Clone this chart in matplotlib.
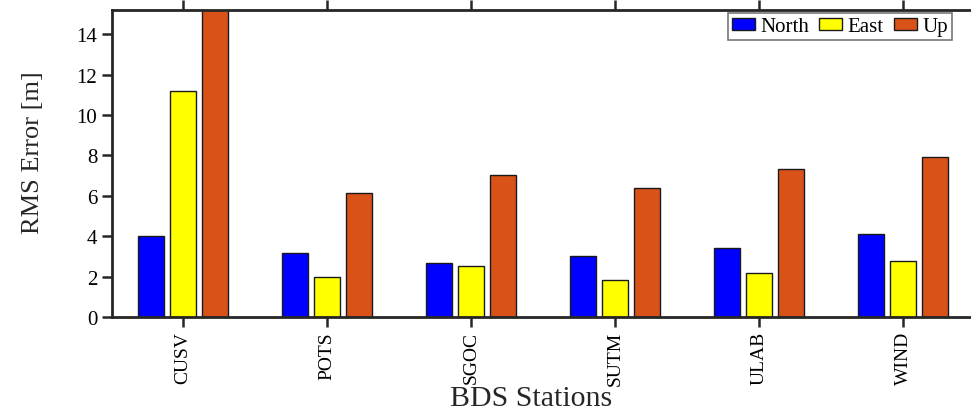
import numpy as np
import matplotlib
matplotlib.use('Agg')
import matplotlib.pyplot as plt

plt.rcParams['font.family'] = ['Liberation Serif', 'DejaVu Serif']

stations = ['CUSV', 'POTS', 'SGOC', 'SUTM', 'ULAB', 'WIND']
north = [4.02, 3.15, 2.69, 3.00, 3.43, 4.12]
east = [11.2, 1.98, 2.52, 1.83, 2.19, 2.76]
up = [15.6, 6.15, 7.03, 6.37, 7.34, 7.90]

series = [('North', north, '#0000FF'),
          ('East', east, '#FFFF00'),
          ('Up', up, '#D95319')]

fig = plt.figure(figsize=(9.71, 4.14), dpi=100)
ax = fig.add_axes([0.1153, 0.2319, 0.8877, 0.7415])

x = np.arange(1, len(stations) + 1)
width = 0.18
offsets = [-0.222, 0.0, 0.222]
for (name, vals, col), off in zip(series, offsets):
    ax.bar(x + off, vals, width, color=col, edgecolor='#1a1a1a',
           linewidth=1.0, label=name)

ax.set_xlim(0.51, 6.49)
ax.set_ylim(0, 15.2)
ax.set_yticks(np.arange(0, 15, 2))
ax.set_xticks(x)
ax.set_xticklabels(stations, rotation=90, fontsize=14)
ax.tick_params(axis='y', labelsize=15, direction='out', length=7,
               width=1.8, color='#262626', right=False)
ax.tick_params(axis='x', direction='out', length=7, width=1.8,
               color='#262626', top=True, pad=3)
for s in ax.spines.values():
    s.set_linewidth(2.0)
    s.set_color('#262626')

ax.set_ylabel('RMS Error [m]', fontsize=19, color='#262626')
ax.yaxis.set_label_coords(-0.079, 0.54)
ax.set_xlabel('BDS Stations', fontsize=21.5, color='#262626')
ax.xaxis.label.set_va('baseline')
ax.xaxis.set_label_coords(0.486, -0.2866)

leg = ax.legend(ncol=3, loc='upper right', bbox_to_anchor=(952 / 971, 1 - 14 / 414),
                bbox_transform=fig.transFigure, fontsize=15, frameon=True,
                fancybox=False, edgecolor='#555555', handlelength=1.1,
                handleheight=0.55, handletextpad=0.25, columnspacing=0.5,
                borderpad=0.2, borderaxespad=0)
leg.get_frame().set_linewidth(1.2)

fig.savefig('out.png', dpi=100)
